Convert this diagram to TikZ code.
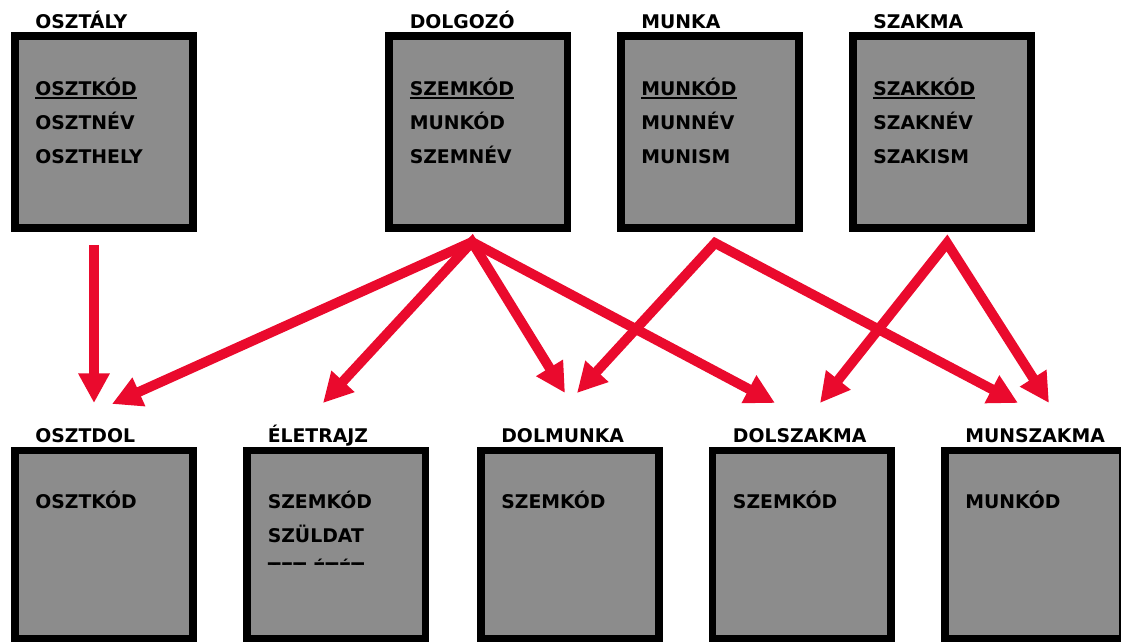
\documentclass[tikz,border=0pt]{standalone}
\usepackage{fontspec}
\setmainfont{DejaVu Sans}
\usetikzlibrary{arrows.meta}

\definecolor{boxgray}{RGB}{140,140,140}
\definecolor{linkred}{RGB}{234,10,45}

% underlined key attribute
\newcommand\keyattr[1]{\setbox0\hbox{#1}\rlap{\rule[-2.4pt]{\wd0}{1pt}}\box0}

\tikzset{
	tablebox/.style={draw=black, line width=5.3pt, fill=boxgray, minimum width=4.46cm},
	toptable/.style={tablebox, minimum height=4.81cm},
	bottable/.style={tablebox, minimum height=4.69cm},
	tabletitle/.style={anchor=base west, inner sep=0pt, shift={(0.6,0.1)}, font=\bfseries\fontsize{13.4}{16}\selectfont},
	fields/.style={anchor=north west, align=left, inner sep=0pt, font=\bfseries\fontsize{13.4}{24.2}\selectfont},
	link/.style={draw=linkred, line width=7pt},
}

\begin{document}
\begin{tikzpicture}[>={Triangle[length=21pt,width=21pt]}]
	\useasboundingbox (0,0) rectangle (28.025,16.05);
	
	% base tables
	\node[toptable, label={[tabletitle]north west:OSZTÁLY}] (osztaly) at (2.6,12.75) {};
	\node[toptable, label={[tabletitle]north west:DOLGOZÓ}] (dolgozo) at (11.96,12.75) {};
	\node[toptable, label={[tabletitle]north west:MUNKA}] (munka) at (17.75,12.75) {};
	\node[toptable, label={[tabletitle]north west:SZAKMA}] (szakma) at (23.55,12.75) {};
	
	\node[fields] (osztaly-f) at ([shift={(0.6,-1.14)}]osztaly.north west) {\keyattr{OSZTKÓD}\\OSZTNÉV\\OSZTHELY};
	\node[fields] (dolgozo-f) at ([shift={(0.6,-1.14)}]dolgozo.north west) {\keyattr{SZEMKÓD}\\MUNKÓD\\SZEMNÉV};
	\node[fields] (munka-f) at ([shift={(0.6,-1.14)}]munka.north west) {\keyattr{MUNKÓD}\\MUNNÉV\\MUNISM};
	\node[fields] (szakma-f) at ([shift={(0.6,-1.14)}]szakma.north west) {\keyattr{SZAKKÓD}\\SZAKNÉV\\SZAKISM};
	
	% derived tables
	\node[bottable, label={[tabletitle]north west:OSZTDOL}] (osztdol) at (2.6,2.4375) {};
	\node[bottable, label={[tabletitle]north west:ÉLETRAJZ}] (eletrajz) at (8.41,2.4375) {};
	\node[bottable, label={[tabletitle]north west:DOLMUNKA}] (dolmunka) at (14.25,2.4375) {};
	\node[bottable, label={[tabletitle]north west:DOLSZAKMA}] (dolszakma) at (20.04,2.4375) {};
	\node[bottable, label={[tabletitle]north west:MUNSZAKMA}] (munszakma) at (25.85,2.4375) {};
	
	\node[fields] (osztdol-f) at ([shift={(0.6,-1.09)}]osztdol.north west) {OSZTKÓD};
	\begin{scope}
		\clip (6,1.925) rectangle (11,7);
		\node[fields] (eletrajz-f) at ([shift={(0.6,-1.09)}]eletrajz.north west) {SZEMKÓD\\SZÜLDAT\\TET ÉTÉT};
	\end{scope}
	\node[fields] (dolmunka-f) at ([shift={(0.6,-1.09)}]dolmunka.north west) {SZEMKÓD};
	\node[fields] (dolszakma-f) at ([shift={(0.6,-1.09)}]dolszakma.north west) {SZEMKÓD};
	\node[fields] (munszakma-f) at ([shift={(0.6,-1.09)}]munszakma.north west) {MUNKÓD};
	
	% arrow ends
	\coordinate (osztaly-out) at (2.35,9.925);
	\coordinate (dolgozo-out) at (11.8,10.0);
	\coordinate (munka-out) at (17.875,9.975);
	\coordinate (szakma-out) at (23.675,9.975);
	
	\coordinate (osztdol-in1) at (2.35,5.975);
	\coordinate (osztdol-in2) at (2.8,5.95);
	\coordinate (eletrajz-in) at (8.075,5.975);
	\coordinate (dolmunka-in1) at (14.125,6.225);
	\coordinate (dolmunka-in2) at (14.425,6.225);
	\coordinate (dolszakma-in1) at (19.375,5.975);
	\coordinate (dolszakma-in2) at (20.5,5.975);
	\coordinate (munszakma-in1) at (25.45,5.975);
	\coordinate (munszakma-in2) at (26.225,5.975);
	
	\draw[link, ->] (osztaly-out) -- (osztdol-in1);
	\draw[link, <->] (osztdol-in2) -- (dolgozo-out) -- (dolszakma-in1);
	\draw[link, <->] (eletrajz-in) -- (dolgozo-out) -- (dolmunka-in1);
	\draw[link, <->] (dolmunka-in2) -- (munka-out) -- (munszakma-in1);
	\draw[link, <->] (dolszakma-in2) -- (szakma-out) -- (munszakma-in2);
\end{tikzpicture}
\end{document}
